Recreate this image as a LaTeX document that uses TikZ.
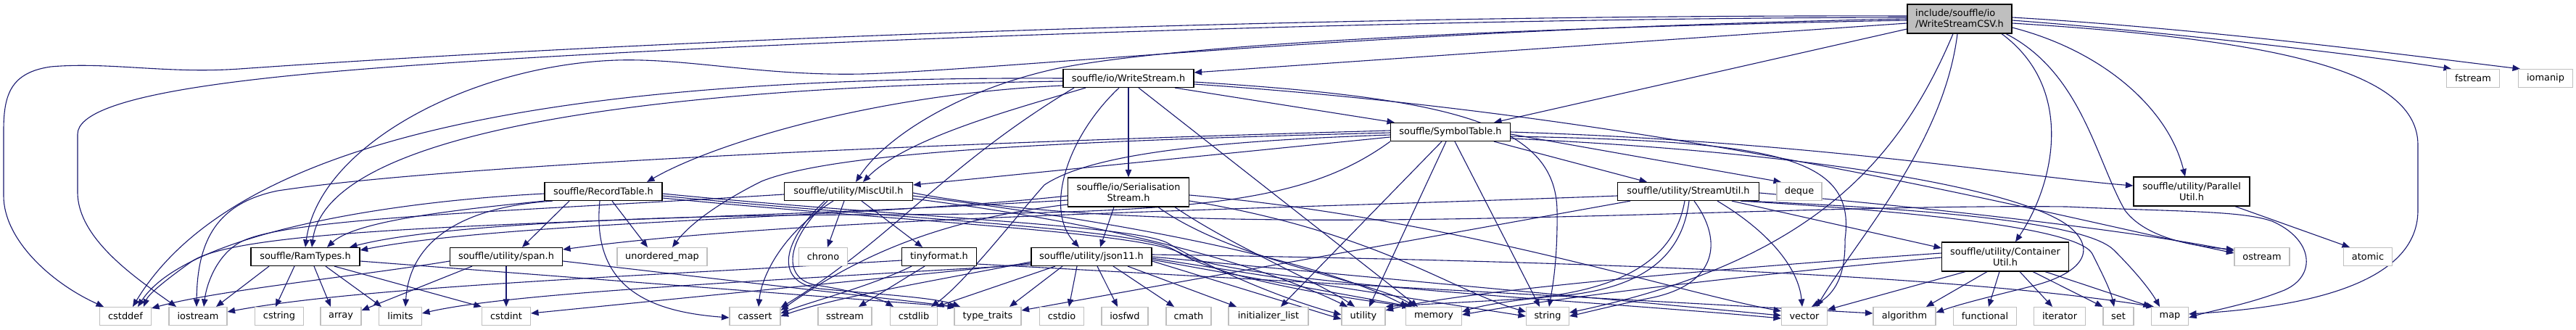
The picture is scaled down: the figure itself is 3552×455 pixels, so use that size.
\documentclass[tikz,border=0pt]{standalone}
\usepackage{fontspec}
\setmainfont{DejaVu Sans}
\usetikzlibrary{arrows.meta,backgrounds}
\definecolor{edgeblue}{HTML}{191970}
\definecolor{sysgray}{HTML}{BFBFBF}
\tikzset{every node/.style={font=\fontsize{12.9}{15}\selectfont},line cap=round,line join=round}
\tikzset{
  hdr/.style={draw=black,line width=1.2pt,fill=white,inner sep=0pt,minimum height=25pt},
  syshdr/.style={draw=sysgray,line width=1.1pt,fill=white,inner sep=0pt,minimum height=25pt},
  dep/.style={draw=edgeblue,line width=1.1pt,-{Triangle[length=10.5pt,width=8.5pt]}},
}
\begin{document}
\begin{tikzpicture}[x=1pt,y=-1pt]
  \path[use as bounding box] (0,0) rectangle (3552,455);
  % headers of the project
  \node[hdr,fill=sysgray,align=left,minimum width=144pt,minimum height=40pt] (root) at (2702,26) {include/souffle/io\\/WriteStreamCSV.h};
  \node[hdr,minimum width=180pt] (wstream) at (1556,108) {souffle/io/WriteStream.h};
  \node[hdr,minimum width=165pt] (symtab) at (2000,182) {souffle/SymbolTable.h};
  \node[hdr,minimum width=162pt] (rectab) at (832,264) {souffle/RecordTable.h};
  \node[hdr,minimum width=177pt] (miscutil) at (1170,264) {souffle/utility/MiscUtil.h};
  \node[hdr,align=center,minimum width=167pt,minimum height=40pt] (serial) at (1556,265) {souffle/io/Serialisation\\Stream.h};
  \node[hdr,minimum width=195pt] (streamutil) at (2328,264) {souffle/utility/StreamUtil.h};
  \node[hdr,align=center,minimum width=160pt,minimum height=40pt] (parutil) at (3022,264) {souffle/utility/Parallel\\Util.h};
  \node[hdr,minimum width=150pt] (ramtypes) at (421,354) {souffle/RamTypes.h};
  \node[hdr,minimum width=155pt] (span) at (698,354) {souffle/utility/span.h};
  \node[hdr,minimum width=103pt] (tinyfmt) at (1295,354) {tinyformat.h};
  \node[hdr,minimum width=166pt] (json) at (1505,354) {souffle/utility/json11.h};
  \node[hdr,align=center,minimum width=175pt,minimum height=40pt] (contutil) at (2765,354) {souffle/utility/Container\\Util.h};
  % system headers
  \node[syshdr,minimum width=73pt] (fstream) at (3410,108) {fstream};
  \node[syshdr,minimum width=75pt] (iomanip) at (3510,108) {iomanip};
  \node[syshdr,minimum width=62pt] (deque) at (2481,264) {deque};
  \node[syshdr,minimum width=124pt] (umap) at (913,354) {unordered\_map};
  \node[syshdr,minimum width=67pt] (chrono) at (1135,354) {chrono};
  \node[syshdr,minimum width=76pt] (ostream) at (3119,354) {ostream};
  \node[syshdr,minimum width=67pt] (atomic) at (3265,354) {atomic};
  \node[syshdr,minimum width=71pt] (cstddef) at (173,436) {cstddef};
  \node[syshdr,minimum width=80pt] (iostream) at (273,436) {iostream};
  \node[syshdr,minimum width=67pt] (cstring) at (385,436) {cstring};
  \node[syshdr,minimum width=56pt] (array) at (470,436) {array};
  \node[syshdr,minimum width=59pt] (limits) at (552,436) {limits};
  \node[syshdr,minimum width=67pt] (cstdint) at (698,436) {cstdint};
  \node[syshdr,minimum width=70pt] (cassert) at (1041,436) {cassert};
  \node[syshdr,minimum width=74pt] (sstream) at (1165,436) {sstream};
  \node[syshdr,minimum width=65pt] (cstdlib) at (1260,436) {cstdlib};
  \node[syshdr,minimum width=92pt] (typetr) at (1362,436) {type\_traits};
  \node[syshdr,minimum width=61pt] (cstdio) at (1464,436) {cstdio};
  \node[syshdr,minimum width=64pt] (iosfwd) at (1551,436) {iosfwd};
  \node[syshdr,minimum width=62pt] (cmath) at (1639,436) {cmath};
  \node[syshdr,minimum width=110pt] (initlist) at (1749,436) {initializer\_list};
  \node[syshdr,minimum width=60pt] (utility) at (1880,436) {utility};
  \node[syshdr,minimum width=77pt] (memory) at (1977,436) {memory};
  \node[syshdr,minimum width=59pt] (string) at (2134,436) {string};
  \node[syshdr,minimum width=63pt] (vector) at (2488,436) {vector};
  \node[syshdr,minimum width=86pt] (algorithm) at (2626,436) {algorithm};
  \node[syshdr,minimum width=87pt] (functional) at (2737,436) {functional};
  \node[syshdr,minimum width=71pt] (iterator) at (2840,436) {iterator};
  \node[syshdr,minimum width=42pt] (set) at (2921,436) {set};
  \node[syshdr,minimum width=51pt] (map) at (2992,436) {map};

  \begin{scope}[on background layer]
  \fill[white] (0,0) rectangle (3552,455);
  % WriteStreamCSV.h
  \draw[dep] ([yshift=4pt]root.west) .. controls (1800,20) and (900,55) .. (330,95) .. controls (230,102) and (150,85) .. (70,92) .. controls (15,100) and (5,130) .. (5,180) -- (5,270) .. controls (5,330) and (70,390) .. ([xshift=-30pt]cstddef.north);
  \draw[dep] ([yshift=2pt]root.west) .. controls (1900,25) and (1000,60) .. (600,88) .. controls (350,105) and (107,130) .. (107,185) -- (107,265) .. controls (107,330) and (190,385) .. ([xshift=-30pt]iostream.north);
  \draw[dep] (root.west) .. controls (1900,40) and (1400,95) .. (1190,102) .. controls (1050,105) and (950,80) .. (850,83) .. controls (650,90) and (440,200) .. (ramtypes.north);
  \draw[dep] ([yshift=-2pt]root.west) .. controls (2000,40) and (1600,65) .. (1455,95) .. controls (1320,125) and (1220,190) .. ([xshift=10pt]miscutil.north);
  \draw[dep] ([yshift=-6pt]root.west) -- ([yshift=8pt]wstream.east);
  \draw[dep] ([yshift=-14pt]root.west) -- ([xshift=60pt]symtab.north);
  \draw[dep] ([xshift=58pt]root.south) .. controls (2860,120) and (2835,250) .. ([xshift=14pt]contutil.north);
  \draw[dep] ([yshift=-12pt]root.east) .. controls (2900,70) and (2990,150) .. ([xshift=-9pt]parutil.north);
  \draw[dep] ([xshift=64pt]root.south) .. controls (2870,100) and (2890,220) .. (2930,290) .. controls (2960,330) and (3030,340) .. ([yshift=10pt]ostream.west);
  \draw[dep] ([yshift=-2pt]root.east) .. controls (3000,45) and (3250,75) .. ([xshift=-30pt]fstream.north);
  \draw[dep] ([yshift=2pt]root.east) .. controls (3050,40) and (3350,80) .. ([xshift=-35pt]iomanip.north);
  \draw[dep] ([yshift=-6pt]root.east) .. controls (3150,55) and (3334,100) .. (3334,200) -- (3334,290) .. controls (3334,400) and (3150,425) .. ([yshift=3pt]map.east);
  \draw[dep] ([xshift=-9pt]root.south) .. controls (2620,220) and (2500,360) .. ([yshift=5pt]string.east);
  \draw[dep] ([xshift=-3pt]root.south) .. controls (2680,200) and (2560,330) .. ([xshift=17pt]vector.north);
  % WriteStream.h
  \draw[dep] ([xshift=64pt]wstream.south) -- ([xshift=-77pt]symtab.north);
  \draw[dep] (wstream.south) -- (serial.north);
  \draw[dep] ([xshift=-13pt]wstream.south) .. controls (1470,190) and (1440,290) .. ([xshift=-17pt]json.north);
  \draw[dep] ([xshift=14pt]wstream.south) -- ([xshift=-22pt]memory.north);
  \draw[dep] ([yshift=-5pt]wstream.east) .. controls (2000,135) and (2145,170) .. (2147,290) .. controls (2148,360) and (2140,400) .. ([xshift=2pt]string.north);
  \draw[dep] ([yshift=-8pt]wstream.east) .. controls (2300,160) and (2800,290) .. ([yshift=5pt]ostream.west);
  \draw[dep] ([yshift=-4pt]wstream.west) .. controls (900,120) and (450,180) .. ([xshift=9pt]ramtypes.north);
  \draw[dep] ([yshift=-10pt]wstream.west) .. controls (1200,130) and (980,200) .. ([xshift=60pt]rectab.north);
  \draw[dep] ([xshift=-59pt]wstream.south) .. controls (1400,150) and (1250,190) .. ([xshift=20pt]miscutil.north);
  \draw[dep] ([xshift=-75pt]wstream.south) .. controls (1300,230) and (1230,330) .. ([yshift=12pt]cassert.east);
  \draw[dep] (wstream.west) .. controls (800,105) and (330,180) .. ([xshift=10pt]cstddef.north);
  % SymbolTable.h
  \draw[dep] ([xshift=60pt]symtab.south) -- ([xshift=-57pt]streamutil.north);
  \draw[dep] ([yshift=-3pt]symtab.east) -- ([xshift=-25pt]deque.north);
  \draw[dep] (symtab.east) .. controls (2500,195) and (2800,245) .. ([yshift=8pt]parutil.west);
  \draw[dep] ([yshift=-7pt]symtab.west) -- ([yshift=9pt]miscutil.east);
  \draw[dep] ([yshift=-4pt]symtab.west) .. controls (1650,195) and (1500,215) .. (1440,255) .. controls (1400,300) and (1330,390) .. ([xshift=24pt]cstdlib.north);
  \draw[dep] ([yshift=2pt]symtab.west) .. controls (1200,200) and (600,230) .. (383,263) .. controls (300,280) and (272,330) .. ([xshift=-2pt]iostream.north);
  \draw[dep] ([yshift=-1pt]symtab.west) .. controls (1450,195) and (1150,210) .. (1050,250) .. controls (990,280) and (950,310) .. ([xshift=14pt]umap.north);
  \draw[dep] ([xshift=-12pt]symtab.south) -- ([xshift=17pt]initlist.north);
  \draw[dep] ([xshift=-6pt]symtab.south) -- ([xshift=8pt]utility.north);
  \draw[dep] ([xshift=6pt]symtab.south) -- ([xshift=-11pt]string.north);
  \draw[dep] ([yshift=-6pt]symtab.east) .. controls (2450,195) and (2560,215) .. (2544,330) .. controls (2545,380) and (2530,405) .. ([xshift=10pt]vector.north);
  \draw[dep] ([yshift=-9pt]symtab.east) .. controls (2500,210) and (2780,260) .. (2850,310) .. controls (2890,340) and (2880,375) .. (2800,395) .. controls (2740,410) and (2700,420) .. ([yshift=5pt]algorithm.east);
  \draw[dep] (symtab.south west) .. controls (1800,280) and (1650,295) .. (1190,296) .. controls (900,297) and (600,310) .. ([xshift=61pt]ramtypes.north);
  % RecordTable.h
  \draw[dep] (rectab.south west) .. controls (620,290) and (490,305) .. ([xshift=30pt]ramtypes.north);
  \draw[dep] ([xshift=-47pt]rectab.south) -- ([xshift=22pt]span.north);
  \draw[dep] ([xshift=12pt]rectab.south) -- ([xshift=-20pt]umap.north);
  \draw[dep] ([xshift=-5pt]rectab.south) .. controls (815,400) and (900,430) .. ([yshift=-2pt]cassert.west);
  \draw[dep] ([yshift=-3pt]rectab.west) .. controls (500,280) and (250,330) .. ([xshift=17pt]cstddef.north);
  \draw[dep] ([xshift=-70pt]rectab.south) .. controls (640,285) and (565,330) .. ([xshift=7pt]limits.north);
  \draw[dep] ([yshift=-3pt]rectab.east) .. controls (1250,300) and (1560,310) .. (1610,335) .. controls (1660,365) and (1760,410) .. ([yshift=2pt]utility.west);
  \draw[dep] ([yshift=-6pt]rectab.east) .. controls (1250,303) and (1570,315) .. (1620,345) .. controls (1680,385) and (1850,410) .. ([xshift=-33pt]memory.north);
  \draw[dep] ([yshift=-9pt]rectab.east) .. controls (1250,306) and (1580,320) .. (1630,350) .. controls (1700,390) and (2200,415) .. ([yshift=-3pt]vector.west);
  % MiscUtil.h
  \draw[dep] ([xshift=-6pt]miscutil.south) -- ([xshift=6pt]chrono.north);
  \draw[dep] ([xshift=18pt]miscutil.south) -- ([xshift=-23pt]tinyfmt.north);
  \draw[dep] ([xshift=-21pt]miscutil.south) .. controls (1080,320) and (1050,380) .. ([xshift=5pt]cassert.north);
  \draw[dep] ([xshift=-29pt]miscutil.south) .. controls (1080,335) and (1080,385) .. (1125,393) .. controls (1170,400) and (1210,410) .. ([xshift=-28pt]cstdlib.north);
  \draw[dep] ([xshift=-33pt]miscutil.south) .. controls (1072,340) and (1072,390) .. (1130,398) .. controls (1200,405) and (1290,410) .. ([xshift=-38pt]typetr.north);
  \draw[dep] ([yshift=-2pt]miscutil.east) .. controls (1650,340) and (2400,280) .. (2850,285) .. controls (3000,292) and (3090,290) .. (3133,305) .. controls (3190,330) and (3195,380) .. (3150,400) .. controls (3100,420) and (3050,428) .. ([yshift=-2pt]map.east);
  \draw[dep] ([yshift=-6pt]miscutil.east) .. controls (1500,300) and (1800,350) .. ([xshift=-36pt]memory.north);
  \draw[dep] ([yshift=-10pt]miscutil.east) .. controls (1550,310) and (1750,370) .. ([xshift=-22pt]utility.north);
  \draw[dep] ([yshift=-4pt]miscutil.west) .. controls (700,292) and (400,300) .. (333,333) .. controls (300,350) and (285,390) .. ([xshift=8pt]iostream.north);
  % SerialisationStream.h
  \draw[dep] ([xshift=-20pt]serial.south) -- ([xshift=12pt]json.north);
  \draw[dep] ([yshift=-5pt]serial.west) .. controls (1200,300) and (700,305) .. ([yshift=9pt]ramtypes.east);
  \draw[dep] ([yshift=-11pt]serial.west) .. controls (900,310) and (350,305) .. (265,360) .. controls (230,385) and (205,405) .. ([xshift=25pt]cstddef.north);
  \draw[dep] ([yshift=-17pt]serial.west) .. controls (1320,300) and (1200,340) .. ([yshift=8pt]cassert.east);
  \draw[dep] ([yshift=-4pt]serial.east) .. controls (2000,300) and (2300,400) .. ([yshift=7pt]vector.west);
  \draw[dep] ([yshift=-12pt]serial.east) .. controls (1900,320) and (2000,400) .. ([yshift=6pt]string.west);
  \draw[dep] ([xshift=64pt]serial.south) .. controls (1700,340) and (1820,390) .. ([xshift=-12pt]utility.north);
  \draw[dep] ([xshift=41pt]serial.south) .. controls (1700,360) and (1900,390) .. ([xshift=-26pt]memory.north);
  % StreamUtil.h
  \draw[dep] ([xshift=60pt]streamutil.south) -- ([yshift=12pt]contutil.west);
  \draw[dep] ([yshift=-6pt]streamutil.west) .. controls (1700,290) and (1100,300) .. ([yshift=10pt]span.east);
  \draw[dep] ([xshift=80pt]streamutil.south) .. controls (2700,290) and (2880,310) .. (2915,345) .. controls (2945,375) and (2965,400) .. ([xshift=-14pt]map.north);
  \draw[dep] ([xshift=72pt]streamutil.south) .. controls (2700,295) and (2870,320) .. (2885,350) .. controls (2900,380) and (2910,400) .. ([xshift=-6pt]set.north);
  \draw[dep] ([yshift=-2pt]streamutil.east) .. controls (2700,290) and (2950,320) .. ([yshift=8pt]ostream.west);
  \draw[dep] ([xshift=8pt]streamutil.south) .. controls (2375,330) and (2370,390) .. (2280,410) .. controls (2230,420) and (2190,430) .. (string.east);
  \draw[dep] ([xshift=40pt]streamutil.south) .. controls (2440,320) and (2480,370) .. ([xshift=-3pt]vector.north);
  \draw[dep] ([xshift=-5pt]streamutil.south) .. controls (2310,350) and (2250,400) .. (2100,412) .. controls (2000,418) and (1950,420) .. (utility.north east);
  \draw[dep] ([xshift=1pt]streamutil.south) .. controls (2320,350) and (2270,398) .. (2150,408) .. controls (2080,414) and (2040,422) .. ([yshift=6pt]memory.east);
  \draw[dep] ([xshift=-80pt]streamutil.south) -- ([yshift=8pt]typetr.east);
  % ContainerUtil.h
  \draw[dep] ([xshift=-55pt]contutil.south) -- ([yshift=9pt]vector.east);
  \draw[dep] ([xshift=-25pt]contutil.south) -- ([xshift=30pt]algorithm.north);
  \draw[dep] ([xshift=-8pt]contutil.south) -- ([xshift=5pt]functional.north);
  \draw[dep] ([xshift=20pt]contutil.south) -- ([xshift=-10pt]iterator.north);
  \draw[dep] ([xshift=38pt]contutil.south) -- (set.north west);
  \draw[dep] ([xshift=55pt]contutil.south) -- (map.north west);
  \draw[dep] ([yshift=5pt]contutil.west) .. controls (2300,375) and (2000,405) .. ([yshift=8pt]utility.east);
  \draw[dep] ([yshift=-1pt]contutil.west) .. controls (2400,380) and (2150,410) .. ([yshift=2pt]memory.east);
  % ParallelUtil.h
  \draw[dep] ([xshift=60pt]parutil.south) -- ([xshift=-25pt]atomic.north);
  % json11.h
  \draw[dep] ([xshift=-50pt]json.south) -- ([xshift=31pt]cstdlib.north);
  \draw[dep] ([xshift=-40pt]json.south) -- ([xshift=30pt]typetr.north);
  \draw[dep] ([xshift=-20pt]json.south) -- ([xshift=10pt]cstdio.north);
  \draw[dep] ([xshift=8pt]json.south) -- ([xshift=-10pt]iosfwd.north);
  \draw[dep] ([xshift=30pt]json.south) -- ([xshift=-20pt]cmath.north);
  \draw[dep] ([xshift=50pt]json.south) -- ([xshift=-44pt]initlist.north);
  \draw[dep] ([yshift=-7pt]json.west) .. controls (1300,385) and (1150,410) .. (cassert.east);
  \draw[dep] ([yshift=-9pt]json.west) -- ([yshift=4pt]cstdint.east);
  \draw[dep] ([yshift=-11pt]json.west) .. controls (1000,390) and (700,405) .. ([yshift=4pt]limits.east);
  \draw[dep] ([yshift=-6pt]json.east) -- ([yshift=-4pt]utility.west);
  \draw[dep] ([yshift=-4pt]json.east) -- ([xshift=-30pt]memory.north);
  \draw[dep] ([yshift=-2pt]json.east) -- (string.west);
  \draw[dep] (json.east) -- ([yshift=1pt]vector.west);
  \draw[dep] ([yshift=3pt]json.east) .. controls (2200,360) and (2700,380) .. ([xshift=-22pt]map.north);
  % tinyformat.h
  \draw[dep] ([xshift=-20pt]tinyfmt.south) -- ([xshift=19pt]sstream.north);
  \draw[dep] ([xshift=-38pt]tinyfmt.south) .. controls (1200,395) and (1120,415) .. ([yshift=4pt]cassert.east);
  \draw[dep] ([yshift=-5pt]tinyfmt.west) .. controls (900,380) and (500,395) .. ([yshift=6pt]iostream.east);
  \draw[dep] ([yshift=-10pt]tinyfmt.east) -- ([yshift=4pt]algorithm.west);
  % span.h
  \draw[dep] (span.south) -- (cstdint.north);
  \draw[dep] ([xshift=-47pt]span.south) -- ([yshift=8pt]array.east);
  \draw[dep] ([yshift=-6pt]span.west) .. controls (500,380) and (300,400) .. ([yshift=11pt]cstddef.east);
  \draw[dep] ([yshift=-6pt]span.east) -- ([xshift=-42pt]typetr.north);
  % RamTypes.h
  \draw[dep] ([xshift=-50pt]ramtypes.south) -- ([xshift=25pt]iostream.north);
  \draw[dep] ([xshift=-15pt]ramtypes.south) -- ([xshift=-5pt]cstring.north);
  \draw[dep] ([xshift=12pt]ramtypes.south) -- ([xshift=-14pt]array.north);
  \draw[dep] ([xshift=28pt]ramtypes.south) -- ([xshift=-26pt]limits.north);
  \draw[dep] ([xshift=40pt]ramtypes.south) -- (cstdint.north west);
  \draw[dep] ([yshift=-6pt]ramtypes.east) -- ([xshift=-45pt]typetr.north);
  \end{scope}
\end{tikzpicture}
\end{document}
